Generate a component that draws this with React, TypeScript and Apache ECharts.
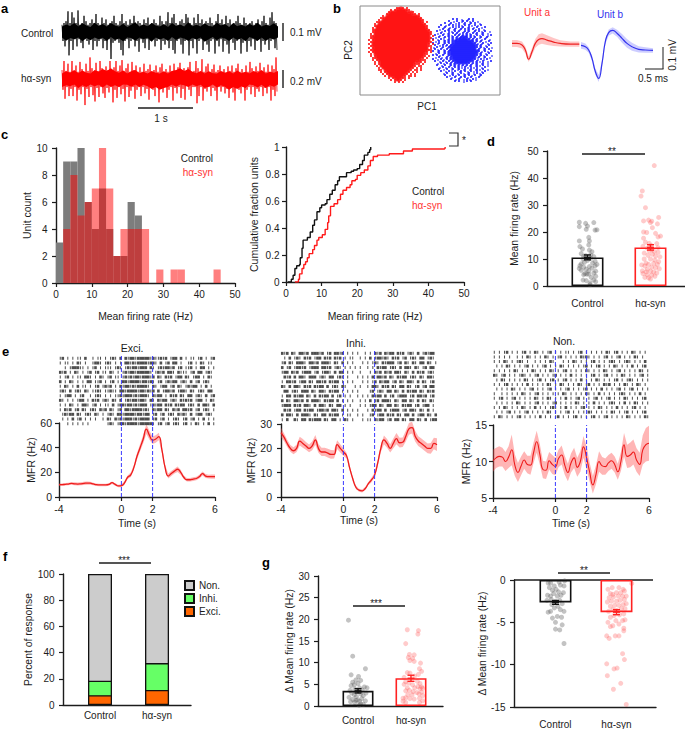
import React, { useEffect, useRef } from "react";
import * as echarts from "echarts";

const FONT = "Liberation Sans";
const INK = "#1c1c1c";
const CONTROL_LABEL = "Control";
const HA_LABEL = "hα-syn";

const TRACE_CONTROL_HI = [.04,.05,.06,.115,.05,.11,.08,.05,.12,.04,.05,.09,.06,.04,.05,.07,.05,.1,.05,.04,.08,.05,.07,.04,.05,.06,.09,.05,.04,.06,.1,.05,.06,.04,.07,.05,.09,.04,.06,.05,.04,.07,.05,.08,.04,.05,.07,.05,.04,.09,.06,.04,.06,.11,.05,.08,.1,.05,.04,.06,.07,.05,.1,.08,.05,.04,.08,.05,.1,.05,.07,.04,.06,.05,.08,.05,.04,.06,.1,.05,.07,.04,.09,.05,.07,.04,.05,.06,.09,.05,.04,.08,.05,.04,.05,.06,.04,.05,.07,.04,.06,.09,.05,.04,.08,.11,.06,.05];
const TRACE_CONTROL_LO = [-.05,-.08,-.04,-.13,-.05,-.1,-.04,-.08,-.04,-.06,-.09,-.04,-.05,-.07,-.04,-.1,-.05,-.08,-.05,-.04,-.09,-.05,-.1,-.04,-.15,-.06,-.05,-.04,-.06,-.1,-.13,-.05,-.04,-.09,-.05,-.04,-.08,-.05,-.11,-.04,-.06,-.09,-.04,-.1,-.05,-.04,-.08,-.05,-.04,-.1,-.05,-.07,-.04,-.09,-.05,-.1,-.12,-.05,-.04,-.07,-.12,-.05,-.04,-.13,-.05,-.09,-.04,-.12,-.05,-.04,-.1,-.05,-.07,-.11,-.05,-.04,-.12,-.05,-.08,-.04,-.11,-.05,-.07,-.12,-.04,-.06,-.1,-.05,-.04,-.12,-.06,-.04,-.11,-.05,-.08,-.04,-.1,-.05,-.04,-.11,-.05,-.07,-.04,-.1,-.05,-.04,-.09,-.1];
const TRACE_CONTROL_CORE = [.03,.042,.034,.05,.03,.048,.036,.028,.052,.034,.044,.03,.05,.036,.03,.046,.028,.04,.054,.03,.042,.032,.05,.036,.03,.044,.028,.05,.034,.042,.03,.054,.032,.04,.03,.048,.034,.03,.052,.036,.044,.028,.05,.032,.04,.03,.046,.034,.052,.03,.04,.034,.048,.03];
const TRACE_HA_HI = [.1,.2,.09,.17,.08,.2,.09,.15,.08,.19,.11,.08,.17,.09,.24,.12,.08,.18,.09,.2,.12,.08,.14,.1,.2,.09,.13,.2,.09,.15,.21,.09,.12,.17,.08,.19,.1,.15,.08,.13,.08,.17,.09,.11,.16,.08,.1,.15,.08,.13,.17,.08,.11,.08,.15,.09,.17,.08,.13,.18,.08,.12,.07,.13,.19,.08,.09,.2,.12,.08,.22,.08,.14,.17,.08,.11,.16,.08,.1,.15,.08,.11,.07,.14,.09,.15,.08,.12,.17,.08,.11,.07,.15,.08,.19,.12,.08,.14,.09,.18,.08,.13,.08,.16,.08,.15,.11,.24];
const TRACE_HA_LO = [-.12,-.22,-.09,-.19,-.11,-.19,-.09,-.24,-.12,-.17,-.09,-.29,-.11,-.2,-.09,-.18,-.25,-.1,-.2,-.09,-.16,-.21,-.1,-.15,-.09,-.26,-.12,-.21,-.09,-.17,-.11,-.25,-.09,-.2,-.13,-.09,-.22,-.12,-.09,-.19,-.09,-.16,-.11,-.23,-.09,-.12,-.19,-.09,-.26,-.11,-.15,-.09,-.21,-.12,-.09,-.24,-.1,-.16,-.09,-.21,-.11,-.23,-.08,-.12,-.19,-.09,-.09,-.27,-.19,-.09,-.24,-.11,-.14,-.09,-.19,-.1,-.13,-.24,-.09,-.14,-.09,-.16,-.11,-.21,-.09,-.15,-.24,-.09,-.12,-.16,-.09,-.24,-.12,-.09,-.17,-.09,-.2,-.11,-.14,-.09,-.19,-.1,-.16,-.09,-.24,-.12,-.19,-.14];
const TRACE_HA_CORE = [.06,.085,.07,.1,.065,.095,.07,.06,.1,.08,.11,.09,.12,.085,.07,.095,.06,.085,.1,.065,.08,.06,.09,.07,.06,.085,.06,.09,.1,.12,.09,.11,.08,.065,.09,.06,.085,.065,.06,.09,.07,.085,.06,.095,.065,.08,.06,.09,.07,.1,.06,.08,.07,.09];

const CLOUD_RED = [
"..............++#+.+.............",
"...........+.+#####++............",
"..........+#########+#+..........",
".........+############++.+.......",
".......+.################+.......",
"......++##################+......",
".....+.####################+.....",
"....++#####################+.+...",
"...+.#######################+....",
"...+#########################+...",
"..+.#########################+...",
"..+###########################+..",
"..+############################+.",
".+.############################+.",
".++############################.+",
".+#############################+.",
"+.+############################.+",
".+#############################+.",
"+.############################+.+",
".+############################++.",
"+.+###########################.+.",
".+############################++.",
"+.+##########################+.+.",
".+.#########################++...",
".+.+########################+.+..",
"..++#######################+.+...",
"..+.+#####################+++....",
"...+.+##################+#+.+....",
"...+.+#################+++.+.....",
"....+.#################+.++......",
".....+.###############+.+.+......",
".....++.#############+.++.+......",
"......+.+###########+.+.+........",
".......+.+#########+.+.+.........",
"........+.+#######+.++.+.........",
"..........+.+####++.+............",
"...........+.+##+.+..............",
".............+.+.+...............",
];
const CLOUD_BLUE = [
"..........+.+.*..*+.+.........",
"........+.*.+.*+.+*.+.*.......",
"......+.*+.*.+.*+.*+.+.*......",
"....+.*.+.+*.+*.+.+*.+*.+.....",
"...+.*+.*.+*.+*+.*+.*.+.*.+...",
"...*.+.*+.*+.*+.+*+.+*.+.*....",
"..+.*.+.+*.+*+.*+*+.*+.+*.+.*.",
"..*.+*.*+.+*+*.+*+*.+*+.*+.*..",
".+.*.+.*+*.+*+*+*+*+*.+*.+.*.+",
".*.+.*+.+*+*+*+##+*+*+.*+.*+..",
"+.*.+*.*+*+*+#####+*+*+.*.+.*.",
".*.+.*+*+*+#########+*+*+.*.+.",
"+.*+.*+.+*+##########+*.*+.*.+",
".+.*.+*+*+############+*+.*.+.",
"*.+.*+.*+#############+*+*.+.*",
".+*.+*.+*#############*+.*+.+.",
"+.*+.*+*+##############+*.+*.+",
".*.+.*+*+##############*+.*.+.",
"+.+*.+.*+#############+*+*.+.*",
".*.+*.*+*+############*+.*+.*.",
"+.*.+*.+*+###########+*.+*.+..",
".+.*.+*.+*+#########+*+*.+.*.+",
"..*.+*.+*+*+######+*+*+.*+.*..",
"..+.*.+.*+*+*+*+*+*+.*+*.+.*..",
"...*.+*.+*.+*+*.+*.+*.+.*.+...",
"...+.*.+.*+.*+.*+.*+.*+*.+.*..",
"....+.*.+*.+.*+.+*.+*.+.*.+...",
".....*.+.*+.*.+*.*+.*.+*.+....",
"......+.*.+*.+.*+.+*.+.*+.....",
".......+.*.+.*+.+*.+.*.+......",
".........+.*.+.*.+*.+*........",
"...........+.+.*.+.+..........",
];

const WAVE_A_T = [0,.136,.273,.364,.455,.545,.636,.727,.818,.955,1.136,1.318,1.591,1.836];
const WAVE_A_V = [.03,.03,.023,0,-.042,-.008,.03,.048,.052,.045,.036,.03,.027,.027];
const WAVE_A_HALF = [.016,.016,.016,.016,.012,.016,.02,.024,.024,.022,.018,.014,.012,.012];
const WAVE_B_T = [1.882,2,2.091,2.182,2.273,2.364,2.455,2.545,2.636,2.745,2.864,3,3.136,3.273,3.455,3.636,3.845];
const WAVE_B_V = [.021,.015,0,-.038,-.098,-.129,-.061,.038,.079,.089,.076,.053,.03,.015,.003,0,-.002];
const WAVE_B_HALF = [.015,.014,.012,.012,.014,.016,.012,.012,.014,.014,.016,.02,.02,.018,.014,.012,.01];

const BIN_CENTERS = [1,3,5,7,9,11,13,15,17,19,21,23,25,27,29,31,33,35,37,39,41,43,45];
const HIST_CONTROL = [3,9,9,10,6,4,7,4,2,2,6,5,0,0,0,0,0,0,0,0,0,0,0];
const HIST_HA = [0,4,8,5,6,7,10,7,2,4,4,4,4,0,1,0,1,1,0,0,0,0,1];

const CDF_CONTROL = [[.5,0],[1.5,.02],[2,.05],[2.5,.1],[3,.12],[3.8,.13],[4,.18],[4.5,.25],[4.8,.31],[6,.33],[6.8,.37],[7.5,.42],[8,.46],[8.7,.52],[9.5,.55],[10,.57],[11,.58],[11.5,.61],[12.3,.65],[13,.68],[13.8,.72],[14.5,.75],[15,.78],[16.5,.78],[17,.81],[18.3,.82],[19,.83],[20,.84],[20.7,.87],[21.5,.9],[22,.94],[23,.96],[23.5,.98],[23.8,1]];
const CDF_HA = [[2.5,0],[3.5,.02],[3.8,.06],[4.5,.1],[5,.13],[5.5,.15],[6,.18],[6.5,.21],[7.5,.24],[8,.27],[8.7,.31],[9.2,.33],[10.2,.35],[11,.39],[11.7,.44],[12,.49],[12.5,.56],[13.5,.58],[14.5,.61],[15.3,.65],[16,.68],[17,.7],[18,.72],[18.5,.75],[19.5,.76],[20,.79],[21,.81],[22,.83],[23,.86],[23.7,.9],[24.5,.93],[25.7,.94],[29,.95],[33,.97],[35.5,.985],[44.5,.99],[44.7,1]];

const D_MEANS = [10.6, 14.3];
const D_SEMS = [0.9, 1.0];
const D_CONTROL = [[.87,23.6],[.87,22],[.97,23.2],[1,22.2],[1.1,23.5],[.98,21],[1.12,20.7],[1.15,20.8],[1.02,18],[.87,16.7],[1.03,16.7],[.88,14.6],[.92,13.7],[1.02,15.2],[1.03,13.3],[1.07,12.7],[.9,12],[.97,11.2],[1.1,10.9],[1.05,10.2],[.93,10],[1,9.5],[1.12,9.2],[1.08,8.5],[.95,8.8],[.88,7.5],[.94,7],[1.03,7.2],[1.12,7.5],[.87,6.5],[.98,6.2],[1.07,6.6],[.9,5.8],[1.02,5.6],[1.13,5.5],[.96,4.6],[.99,4.4],[1.02,4.4],[.94,4.2],[1.1,4.8],[1.13,3.6],[1.06,3.2],[.93,2.2],[.98,2],[1.1,2.2],[1.13,1.6],[1.04,1.2],[1.04,.5],[.9,8.2],[1.15,8],[1.05,11.5],[.94,11]];
const D_HA = [[2.06,44.6],[1.87,35.2],[1.85,33.3],[1.92,29],[2.13,25.4],[1.89,24.1],[1.97,24.4],[2,23.5],[2.02,24],[2.11,23],[2.03,21.6],[2.08,19.5],[1.89,20],[1.94,19.8],[2.16,18.5],[2.12,18.2],[1.89,17.7],[1.92,16.2],[1.98,15.8],[2.1,15.7],[2.01,15],[1.88,14.7],[1.95,14],[2.12,14.2],[2.02,13.5],[1.98,13],[2.06,12.8],[1.9,12.2],[2.12,12.5],[1.96,11.4],[2.03,11.8],[2.08,11.1],[2.15,10.8],[1.9,10],[2,10],[2.07,9.6],[2.13,9],[1.93,8.5],[1.97,8],[2.05,8.4],[2.11,8],[1.86,7.8],[1.91,7.4],[2.02,7],[2.08,6.8],[2.14,6.4],[1.95,6.2],[1.87,5.6],[1.93,5.2],[2,5.5],[2.05,5.2],[2.1,4.8],[1.88,4.6],[1.95,4.2],[2.02,4],[2.07,3.6],[1.91,3.2],[1.97,3],[2,2.6]];

const RESP_EXCI_TOP = [7.5, 11.5];
const RESP_INHI_TOP = [18.5, 32];
const RESP_NON_TOP = [100, 100];

const G_UP_MEANS = [3.5, 6.4];
const G_UP_SEMS = [0.5, 0.7];
const G_UP_CONTROL = [[.82,19.8],[.9,11.5],[1.14,8.6],[.87,7.2],[1.01,6.8],[.96,6],[.9,5.5],[1.05,5.9],[1,5.2],[.87,4.7],[.93,4.9],[1.12,4.4],[1.17,4.2],[1.03,4.2],[.94,3.9],[.85,3.6],[1.08,3.7],[.99,3.4],[1.15,3],[.88,3],[1.05,2.8],[.93,2.6],[1.1,2.4],[.83,2],[.9,1.5],[.96,1.3],[.99,1.4],[1.03,1.1],[1.07,1.7],[1.14,1.2],[.86,1],[.94,.8],[1.05,.5],[1.1,.4],[.97,2.2],[1.02,.2]];
const G_UP_HA = [[1.93,17.6],[2.14,17.4],[2.13,16.6],[1.9,14.4],[1.97,11.9],[2.06,11.8],[1.95,11.2],[2.03,11],[1.98,10.5],[2.06,10.3],[2.18,9.9],[2.16,8.6],[2.2,8],[1.93,7.7],[1.98,7.6],[2.14,7.3],[2.07,6.9],[1.87,6.6],[1.9,5.6],[1.96,5.3],[2.12,5.7],[2.17,5.2],[1.87,5],[2.03,4.9],[2.13,4.5],[2.2,4.4],[1.93,4.2],[2.07,4.2],[2.17,4],[2.22,4.1],[1.9,3.5],[1.97,3.6],[2.04,3.3],[2.11,3.1],[2.2,3.2],[1.94,2.6],[2.02,2.6],[2.15,2.8],[2.22,2.4],[1.85,1.8],[1.9,1.9],[1.98,1.7],[2.06,1.6],[2.16,1.8],[2.22,1.2],[1.85,1.1],[1.9,.8],[2.16,.8]];
const G_DOWN_MEANS = [-2.65, -3.8];
const G_DOWN_SEMS = [0.22, 0.3];
const G_DOWN_CONTROL = [[1.14,-7.5],[1.07,-5.9],[1,-5.8],[1.11,-5.3],[1,-5],[.95,-4.5],[1.03,-4.3],[1.1,-4.4],[.88,-3.8],[.92,-3.7],[1.08,-3.5],[1.14,-3.7],[.98,-3.3],[1.04,-3.1],[.94,-2.9],[1.11,-2.8],[.86,-2.4],[.93,-2.3],[1,-2.5],[1.07,-2.4],[.87,-1.8],[.92,-1.9],[.97,-1.6],[1.03,-1.9],[1.09,-1.8],[1.13,-1.5],[.95,-1.2],[1.01,-1.1],[1.05,-1.4],[.9,-.9],[.98,-.7],[1.08,-.6],[1.14,-.7],[.88,-.35],[.92,-.35],[1.06,-.25],[1.15,-.1]];
const G_DOWN_HA = [[2.16,-14.7],[1.95,-12.9],[2.07,-12.2],[1.85,-11.3],[1.96,-10.5],[2.01,-10.4],[1.84,-9.9],[2.13,-9.4],[2.1,-8.7],[1.88,-6.9],[1.84,-6.6],[1.98,-6.6],[2.04,-6.6],[2.12,-6],[2.12,-5.7],[1.9,-5.5],[1.94,-5.4],[2.04,-5.2],[1.86,-5],[1.99,-4.8],[2.1,-4.8],[2.14,-4.7],[1.9,-4.4],[1.96,-4.2],[2.05,-4.1],[2.12,-4],[1.87,-3.7],[1.94,-3.5],[2,-3.6],[2.08,-3.4],[2.14,-3.4],[1.9,-3.1],[1.97,-3],[2.04,-3],[2.11,-2.9],[2.16,-2.8],[1.85,-2.6],[1.92,-2.5],[2,-2.5],[2.06,-2.4],[2.13,-2.3],[1.88,-2.1],[1.95,-2],[2.03,-1.9],[2.1,-1.9],[2.16,-1.9],[1.9,-1.6],[1.94,-1.7],[2,-1.5],[2.07,-1.5],[2.13,-1.3],[1.86,-1.1],[1.93,-.9],[2.04,-.9],[2.11,-1.1],[2.25,-.4]];

const TIME_AXIS = [-4,-3.8,-3.6,-3.4,-3.2,-3,-2.8,-2.6,-2.4,-2.2,-2,-1.8,-1.6,-1.4,-1.2,-1,-.8,-.6,-.4,-.2,0,.2,.4,.6,.8,1,1.2,1.4,1.6,1.8,2,2.2,2.4,2.6,2.8,3,3.2,3.4,3.6,3.8,4,4.2,4.4,4.6,4.8,5,5.2,5.4,5.6,5.8,6];
const MFR_EXCI = [10,10,10.3,10.5,11,10.7,10.5,10.7,11,11.3,11.2,10.6,10,9.8,9.8,9.8,10.2,11.6,10.2,9,9.2,11.5,16,18,24,33,40,47,55,50,46,47,49,38,24,17,19,21,22.5,20,16,14,14,14.5,15,16.5,19,17,16.5,16.5,16.5];
const MFR_EXCI_HALF = [1,1,1,1,1,1.2,1.2,1.2,1.3,1.3,1.2,1,1,1,1,1,1,1,1,1,1.2,1.5,1.5,1.8,2,2.5,3,3.5,4,3.5,3,3,3,2.5,2.2,2,2,2,2.2,2,1.5,1.5,1.5,1.5,1.5,1.5,1.6,1.6,1.6,1.7,1.7];
const MFR_INHI = [26.5,24.5,22,20,19,20,23,22,21,20,21,23.5,20,18.5,18.5,18,17.5,17.5,21.5,20,18.5,17,12,7.5,4,2.8,2.5,3.5,5.5,7,9,14,20,23.5,22,20,22,24,22.3,22.5,25,28,28.5,25,23,22,21,20,20,22,21.5];
const MFR_INHI_HALF = [2,1.6,1.5,1.4,1.4,1.5,1.8,1.8,1.6,1.6,1.8,2,1.8,1.7,1.7,1.8,1.8,1.7,1.8,1.7,1.5,1.2,1,.8,.7,.6,.6,.6,.7,.9,1,1.3,1.5,1.8,1.8,1.7,2,2.3,2,2,2.2,2.4,2.4,2.2,2,2,2,2,2.2,2.4,2.6];
const MFR_NON = [10.1,10.5,10.7,10.6,10,10.6,11.6,9.5,8.5,9.4,10.2,9.6,9.5,11.2,12.7,11,8.9,8.8,10.1,9.6,9.3,10.4,10.9,9.5,8.5,9.8,10.5,9.2,10,12,10.5,8.5,6.8,8.2,10,9.4,9.3,9.8,10.1,9.6,8.6,10,12.3,10.7,10.9,11.3,10.2,9.6,11.6,12.3,12.5];
const MFR_NON_HALF = [1.5,1.4,1.4,1.3,1.3,1.5,2.1,1.5,1.3,1.3,1.2,1.2,1.3,1.4,1.5,1.4,1.2,1.2,1.2,1.3,1.2,1.2,1.3,1.3,1.2,1.3,1.4,1.3,1.4,1.5,1.6,1.3,1.2,1.3,1.4,1.2,1.1,1.1,1.1,1.1,1.1,1.3,1.6,1.6,1.7,1.7,1.6,1.6,2,2.3,2.4];

const RASTER_EXCI = [
"|#.|.|.||.#..|.||.|.|#|.#.#|##|#####|#||#|#.|##.#.|.||.|#.|.|#",
"|.||.|.#|.|..|##|.|#|.|.|.##|#|####|##|.#.|#.##.|..|#.|.#|.||.",
"..|.|###||.|.|#.|.|||.|#|.|#|##|###.#|.|#|##|#.|#.||#.|.##.|.|",
"#|#.|.#|.|.|#.|#.||.#|.|.|#|##|#####|.|#|#.##|.#|||.|#.##.|#|.",
"|.|#.|.||.##|.|.#|.|#.||.|#|#|##|###|#.#|.#|#.|##.#|.|##.|.#|.",
"#.|.#|.|.|.##.||#.|.|#.|.##|####|##|#|.|#.|#|##.|#|.#.|#.|#|..",
"|.#|.|.#.||.|.|#.|#|#.|.#|##|#|####|.#|.|##.|#.#|.|#|##.|.#.|.",
"|#|.#.|#|.#|.||#|.||#||.##|####|##|#|#.#.|##|#.|##|.#|.|#|.##.",
"|.|##.|.|#..|.|#|.|.|.||#|###|#|###|.#|##.|.#|#.#|.##.|#|.#.|#",
"#|.|.|.|##.|.#|#.|#|.#|.#.|#|##|##|.#|.#|##.|#|.#|#|#.|##.|.#|",
"|.|.#|.|.##|.|#.|.||.#.|##|##|#|###.|#|##.#|#.#|##.|#|.#.##|.#",
"|.#|#.|#.#|.|#|.#|#.#|.|#.##|####|#|.#|##.#|.#|#.##|#.|#.|#|.|",
".|#|##.#|.|#|.#|.|.|#|.##|####|##|##.|#.|#.|#|.#|#|.#.|##.|#|.",
".|.|.#.|#.|.|.|..|.#|.#|#|###|#|####.|#.|#.|.|#|.|#.|#.|.#.|.|",
"...|.|.|.|.|.......|#|.|##|####|#####|.|#.|#.|#|.|#.|.#|.|.#.|",
];
const RASTER_INHI = [
"#|#.#|.##|#.###|#.|#.##|#.|.|.|..|.|.#|#.#|##.#|#.|#|.#.|#|##.",
".|.#.|#|.#|#.|##.#|#.#|#.|.||..|.|.#.|##|#|.#|#.|#.|#|.##.|#|.",
"|#.#|.###|.##|#.###|.#|.#.|.|...|.|.|#|.#|###.|#.#|.#|.##.#|.|",
"#.|#.|##|#.|###.##|#.|#|.|.|.|.|..|.|.#|##.|#|.#.##|.#|.|#.##.",
"|##.#|#.|###.|#.|##|.#.##.|.|..|...|.#|#.#|#.##|.#|.#.#|#.|#|.",
".#|#.#.##|.###.|#|.##.|#|.|...|.|.|.#.##|#.#|.#|##.|#|.#|.##|.",
"|.##|#.|##.#|.##|#.#|##.|.|.|...|.|.|#.#|##.|#.#|.##|.#.#|.|#.",
"#|.#.##|.#|#.#|##.#.|#|.#|...|.|..|.##|.#|#.#|.##.#|.|#.|#.##.",
".##.|#|.###.#|.##|.#|##.|.|.|.|....|#.|#|.##.#|.#.#|##.#|.#|#.",
"|.##.#|##.#|.#.#|##.#.|#.|.|..|.|.|.#|##.#.|#.|###.|#.##|#.|#.",
"#.#|.##|#.#.###|.#|##.#.|.|.|..|.|.#.|#.###|.#|.##.#|.#.#|.#|.",
"|###.#|#.##|.#.##|.#|.##.|.|...|.|.|##.#|.##.#|.#|##.|#.|##.|.",
".#|#.|##.#|##.|##|#.##|.#.|.|.|...|.#|##.#.|###.|#.##|.#|.#.|.",
"#.##|.#.###|.#|.##.#|##.|.||..|.|..|#.|##.#|#.#|.##.#.|##.#|.#",
"|.#..#|.##.#|###.#|.##.|.#|.|...|.||.#|##.|#.##.#|.##.#|.#.|##",
];
const RASTER_NON = [
"|.|.|#.|.|.|#.|.#|.|.|#.|.|.||.|.|#.|.|.|.|.#|.|#.|.|.#|.|.|.",
"|.|.|.|..|.|.#|.|.|.#|.|.|#.|.|.|.#|#|.|.|.|#.|.|#.|.|.#|.|..",
"|.|.#|.|.|#|.|..|.|.|.#|...|.|.#|.|.|.|#.|.|.|#|.|.|#|.|.|.#.",
".|.|.#|.|.|.|#.|.|.|#.|.|.#|.|.|.|.|#.|.|#.|.|.#|.|.|.#.|.|#.",
"|.|.|.|.#|.|.|.#|.|.|.#|.|.|#.|.|.|.#|.|.|.#|.|.|#.|.|.|.#|.|",
"#|.|#.|.|.|#|.|.|#.|.|.|#.|.|.#.|.|.|.|#.|.|#.|.|.#|.|.|.|#.|",
".|.#|.|.|.|.#|.|.|#.|.|#.|.|#.|.|.#.|.|.#|.|.|.|#.|.|#|.|.|.|",
"|.|.|#.|.|.|.#.|.|.|.#|.|.#|.|.|.#|.|#.|.|.#|#.|.|.#|.|.#|.|.",
".|.|.|.#|.|.|.|#.|.|.|#.|.|.|#.|.|.|#.|.|.#.|.|.|#.|.|#.|.|.|",
"|..|.|.|.|.#|.|.|#.|.|.|.|.#|.|.|.|.#|.|.#.|.|.|.|#|.|.|.#.|.",
"|.|#.|.|#.|.|.|.#|.|.#|.|.|.#.|.|#.|.|.|#.|.|#.|.|.#|.|.|.|#.",
".|.|.|.|.#|.|.|.|#.|.|.|#.|.|.|.#|.|.|.#.|.|.|#|.|.#.|.#|.|.|",
"|.|.#|.|.|.#|.|.#.|.|.|#|.|.#.|.|.|#.|.|.#|.|.|.#.|.|.|#.|.|.",
".|.|.|#.|.|.|#.|.|.|.#|.|.|.|#.|.|.|.#|.|.|.|.#|.|.|#.|.|.|#.",
"|.#|.|.|.|#.|.|.|.#.|.|.|#.|.|.|#.|.|.|#.|.|#.|.|.|.#|.|.|.#|",
];

const resp = (arr: number[], half: number[]) => TIME_AXIS.map((t, i) => [t, arr[i] - half[i], arr[i] + half[i]]);
const mean = (arr: number[]) => TIME_AXIS.map((t, i) => [t, arr[i]]);

function buildOption() {
  const grid: any[] = [];
  const xAxis: any[] = [];
  const yAxis: any[] = [];
  const series: any[] = [];
  const graphic: any[] = [];

  const line = (w = 1.4) => ({ show: true, onZero: false, lineStyle: { color: INK, width: w } });
  const tick = (show = true) => ({ show, length: 4, lineStyle: { color: INK, width: 1.2 } });
  const label = (fs = 10, margin = 6.5) => ({ color: INK, fontFamily: FONT, fontSize: fs, margin });
  const nameStyle = (fs = 10.4) => ({ color: INK, fontFamily: FONT, fontSize: fs });

  const panel = (rect: number[], x: any, y: any) => {
    grid.push({ left: rect[0], top: rect[1], width: rect[2], height: rect[3], containLabel: false });
    xAxis.push({ type: "value", gridIndex: grid.length - 1, splitLine: { show: false }, ...x });
    yAxis.push({ type: "value", gridIndex: grid.length - 1, splitLine: { show: false }, ...y });
    return grid.length - 1;
  };
  const hidden = { show: false };
  const on = (g: number) => ({ xAxisIndex: g, yAxisIndex: g });

  const text = (x: number, y: number, t: string, o: any = {}) =>
    graphic.push({
      type: "text", x, y, rotation: o.rotation || 0, silent: true,
      style: {
        text: t, fontFamily: FONT, fontSize: o.size || 10, fontWeight: o.weight || "normal",
        fill: o.color || INK, textAlign: o.align || "left", textVerticalAlign: "middle",
      },
    });
  const stroke = (x1: number, y1: number, x2: number, y2: number, w = 1.3, color = INK) =>
    graphic.push({ type: "line", silent: true, shape: { x1, y1, x2, y2 }, style: { stroke: color, lineWidth: w } });

  const band = (g: number, rows: number[][], fill: string) =>
    series.push({
      type: "custom", coordinateSystem: "cartesian2d", ...on(g), silent: true, clip: false, z: 1, data: rows,
      renderItem: (p: any, api: any) => {
        if (p.dataIndex !== 0) return null;
        const up = rows.map((r) => api.coord([r[0], r[2]]));
        const down = rows.map((r) => api.coord([r[0], r[1]])).reverse();
        return { type: "polygon", shape: { points: up.concat(down) }, style: { fill } };
      },
    });
  const curve = (g: number, data: any[], color: string, w = 1.3, extra: any = {}) =>
    series.push({ type: "line", ...on(g), data, showSymbol: false, silent: true, lineStyle: { color, width: w }, itemStyle: { color }, z: 3, ...extra });

  const errorBars = (g: number, means: number[], sems: number[], colors: string[], cap: number) =>
    series.push({
      type: "custom", coordinateSystem: "cartesian2d", ...on(g), silent: true, z: 6,
      data: means.map((m, i) => [i + 1, m, sems[i], i]),
      renderItem: (_: any, api: any) => {
        const x = api.value(0), m = api.value(1), s = api.value(2);
        const c = colors[api.value(3)];
        const a = api.coord([x, m + s]), b = api.coord([x, m - s]);
        const st = { stroke: c, lineWidth: 1.4 };
        const l = (x1: number, y1: number, x2: number, y2: number) => ({ type: "line", shape: { x1, y1, x2, y2 }, style: st });
        return { type: "group", children: [
          l(a[0], a[1], b[0], b[1]), l(a[0] - cap, a[1], a[0] + cap, a[1]), l(b[0] - cap, b[1], b[0] + cap, b[1]),
          l(a[0] - cap, (a[1] + b[1]) / 2, a[0] + cap, (a[1] + b[1]) / 2),
        ] };
      },
    });
  const dots = (g: number, data: number[][], color: string) =>
    series.push({ type: "scatter", ...on(g), data, symbolSize: 5, silent: true, itemStyle: { color }, z: 4 });
  const outlineBars = (g: number, means: number[], width: number) => {
    series.push({
      type: "bar", ...on(g), barWidth: width, barGap: "-100%", silent: true, z: 5,
      data: means.map((m, i) => ({
        value: [i + 1, m],
        itemStyle: { color: "rgba(0,0,0,0)", borderColor: i === 0 ? "#111111" : "#ff2222", borderWidth: 1.6 },
      })),
    });
  };
  const nameMap = [CONTROL_LABEL, HA_LABEL];
  const groupAxis = (min: number, max: number, margin = 12) => ({
    min, max, axisLine: line(), axisTick: { show: false },
    axisLabel: { ...label(10), margin, customValues: [1, 2], formatter: (v: number) => nameMap[v - 1] },
  });

  // panel a
  const zig = (hi: number[], lo: number[]) => hi.flatMap((h, i) => [[i, h], [i + 0.5, lo[i]]]);
  const coreRows = (core: number[], n: number) =>
    core.map((c, i) => [(i * n) / (core.length - 1), -core[core.length - 1 - i], c]);
  const aC = panel([62, 0, 216, 64], { ...hidden, min: 0, max: TRACE_CONTROL_HI.length }, { ...hidden, min: -0.178, max: 0.178 });
  band(aC, coreRows(TRACE_CONTROL_CORE, TRACE_CONTROL_HI.length), "#000000");
  curve(aC, zig(TRACE_CONTROL_HI, TRACE_CONTROL_LO), "#000000", 0.8);
  const aH = panel([62, 47, 216, 64], { ...hidden, min: 0, max: TRACE_HA_HI.length }, { ...hidden, min: -0.356, max: 0.356 });
  band(aH, coreRows(TRACE_HA_CORE, TRACE_HA_HI.length), "#ff0000");
  curve(aH, zig(TRACE_HA_HI, TRACE_HA_LO), "#ff0000", 0.8);

  // panel b
  const cloud = (rows: string[], col0: number, row0: number) => {
    const out: number[][] = [];
    rows.forEach((r, j) => r.split("").forEach((ch, i) => {
      if (ch === "#") out.push([col0 + i, row0 + j, 2.8]);
      else if (ch === "+") out.push([col0 + i, row0 + j, 1.9]);
      else if (ch === "*") out.push([col0 + i + 0.5, row0 + j + 0.5, 1.7]);
    }));
    return out;
  };
  const bScatter = panel([360, 6, 140, 89], { ...hidden, min: 0, max: 70 }, { ...hidden, min: 0, max: 44.5, inverse: true });
  const cloudSeries = (data: number[][], color: string) =>
    series.push({ type: "scatter", ...on(bScatter), data, symbol: "rect", symbolSize: (v: number[]) => v[2], silent: true, itemStyle: { color }, z: 2 });
  cloudSeries(cloud(CLOUD_BLUE, 36.5, 6.5), "#1010ff");
  cloudSeries(cloud(CLOUD_RED, 4.5, 1), "#ff0000");
  graphic.push({ type: "rect", silent: true, shape: { x: 360, y: 6, width: 140, height: 89 }, style: { fill: "none", stroke: "#8a8a8a", lineWidth: 1 } });

  const wave = panel([512, 10, 143, 80], { ...hidden, min: 0, max: 3.9 }, { ...hidden, min: -0.1818, max: 0.1818 });
  band(wave, WAVE_A_T.map((t, i) => [t, WAVE_A_V[i] - WAVE_A_HALF[i], WAVE_A_V[i] + WAVE_A_HALF[i]]), "rgba(255,90,90,0.35)");
  curve(wave, WAVE_A_T.map((t, i) => [t, WAVE_A_V[i]]), "#ee2222", 1.2, { smooth: true });
  band(wave, WAVE_B_T.map((t, i) => [t, WAVE_B_V[i] - WAVE_B_HALF[i], WAVE_B_V[i] + WAVE_B_HALF[i]]), "rgba(90,90,255,0.3)");
  curve(wave, WAVE_B_T.map((t, i) => [t, WAVE_B_V[i]]), "#3333ee", 1.2, { smooth: true });

  // panel c
  const hist = panel([56, 148, 179, 135],
    { min: 0, max: 50, interval: 10, axisLine: line(), axisTick: tick(), axisLabel: label(), name: "Mean firing rate (Hz)", nameLocation: "middle", nameGap: 28, nameTextStyle: nameStyle() },
    { min: 0, max: 10, interval: 2, axisLine: line(), axisTick: tick(), axisLabel: label(10, 8.5), name: "Unit count", nameLocation: "middle", nameGap: 20, nameTextStyle: nameStyle() });
  const histSeries = (vals: number[], color: string) =>
    series.push({ type: "bar", ...on(hist), barWidth: 7.16, barGap: "-100%", silent: true, itemStyle: { color }, z: 2, data: vals.map((v, i) => [BIN_CENTERS[i], v]).filter((d) => d[1] > 0) });
  histSeries(HIST_CONTROL, "#7d7d7d");
  histSeries(HIST_HA, "rgba(255,0,0,0.5)");

  const cdf = panel([286, 147, 178, 135],
    { min: 0, max: 50, interval: 10, axisLine: line(), axisTick: tick(), axisLabel: label(), name: "Mean firing rate (Hz)", nameLocation: "middle", nameGap: 29, nameTextStyle: nameStyle() },
    { min: 0, max: 1, interval: 0.2, axisLine: line(), axisTick: tick(), axisLabel: label(10, 6.5), name: "Cumulative fraction units", nameLocation: "middle", nameGap: 27, nameTextStyle: nameStyle(10.5) });
  curve(cdf, CDF_CONTROL, "#111111", 1.4, { step: "end" });
  curve(cdf, CDF_HA, "#ff1a1a", 1.4, { step: "end" });

  // panel d
  const d = panel([547, 151, 138, 135], groupAxis(0.357, 2.548),
    { min: 0, max: 50, interval: 10, axisLine: line(), axisTick: tick(), axisLabel: label(10, 8.5), name: "Mean firing rate (Hz)", nameLocation: "middle", nameGap: 28, nameTextStyle: nameStyle() });
  dots(d, D_CONTROL, "rgba(90,90,90,0.45)");
  dots(d, D_HA, "rgba(255,70,70,0.35)");
  outlineBars(d, D_MEANS, 32);
  errorBars(d, D_MEANS, D_SEMS, ["#111111", "#ff2222"], 3.5);

  // panel e
  const eventLines = (g: number, lo: number, hi: number) => {
    [0, 2].forEach((t) => series.push({
      type: "line", ...on(g), data: [[t, lo], [t, hi]], showSymbol: false, silent: true, z: 7,
      lineStyle: { color: "#3a3aff", type: "dashed", width: 1 },
    }));
  };
  const raster = (rows: string[], top: number, h: number, left: number) => {
    const g = panel([left, top, 156, h], { ...hidden, min: -4, max: 6 }, { ...hidden, min: 0, max: rows.length, inverse: true });
    const data: number[][] = [];
    rows.forEach((r, j) => r.split("").forEach((ch, i) => {
      if (ch === "|" || ch === "#") data.push([-4 + (10 * (i + 0.5)) / r.length, j + 0.5, ch === "#" ? 2.6 : 1]);
    }));
    series.push({
      type: "scatter", ...on(g), data, symbol: "rect", silent: true, symbolSize: (v: number[]) => [v[2], 3],
      itemStyle: { color: "#222222" }, z: 2,
    });
    eventLines(g, 0, rows.length);
  };
  const timeX = (gap: number) => ({
    min: -4, max: 6, interval: 2, axisLine: line(),
    axisTick: { ...tick(), customValues: [-4, 0, 2, 6] },
    axisLabel: { ...label(10.5, 6), customValues: [-4, 0, 2, 6] },
    name: "Time (s)", nameLocation: "middle", nameGap: gap, nameTextStyle: nameStyle(10.5),
  });
  const mfrY = (min: number, max: number, interval: number, gap: number, margin: number) => ({
    min, max, interval, axisLine: line(), axisTick: tick(), axisLabel: label(10.5, margin),
    name: "MFR (Hz)", nameLocation: "middle", nameGap: gap, nameTextStyle: nameStyle(10.5),
  });
  raster(RASTER_EXCI, 356, 70, 59);
  const e1 = panel([59, 423, 156, 74], timeX(20), mfrY(0, 60, 20, 21, 7));
  band(e1, resp(MFR_EXCI, MFR_EXCI_HALF), "rgba(255,70,70,0.4)");
  curve(e1, mean(MFR_EXCI), "#ee1c1c", 1.3, { smooth: true });
  eventLines(e1, 0, 60);
  raster(RASTER_INHI, 351, 71, 281);
  const e2 = panel([281, 424, 156, 73], timeX(17), mfrY(0, 30, 10, 24, 9));
  band(e2, resp(MFR_INHI, MFR_INHI_HALF), "rgba(255,70,70,0.4)");
  curve(e2, mean(MFR_INHI), "#ee1c1c", 1.3, { smooth: true });
  eventLines(e2, 0, 30);
  raster(RASTER_NON, 350, 69, 493);
  const e3 = panel([493, 425, 156, 73], timeX(19), mfrY(5, 15, 5, 20, 6));
  band(e3, resp(MFR_NON, MFR_NON_HALF), "rgba(255,70,70,0.4)");
  curve(e3, mean(MFR_NON), "#ee1c1c", 1.1, { smooth: true });
  eventLines(e3, 5, 15);

  // panel f
  const f = panel([63, 574, 128, 131], groupAxis(0.351, 2.596, 5),
    { min: 0, max: 100, interval: 20, axisLine: line(), axisTick: tick(), axisLabel: label(10, 8.5), name: "Percent of response", nameLocation: "middle", nameGap: 26, nameTextStyle: nameStyle() });
  const respSeries = (name: string, vals: number[], color: string) =>
    series.push({
      type: "bar", name, ...on(f), barWidth: 24, barGap: "-100%", silent: true,
      data: vals.map((v, i) => [i + 1, v]),
      itemStyle: { color, borderColor: "#111111", borderWidth: 1.3 }, z: 3,
    });
  respSeries("Non.", RESP_NON_TOP, "#cccccc");
  respSeries("Inhi.", RESP_INHI_TOP, "#66ff66");
  respSeries("Exci.", RESP_EXCI_TOP, "#ff6600");

  // panel g
  const gUp = panel([318, 576, 125, 130], groupAxis(0.245, 2.604, 9),
    { min: 0, max: 30, interval: 5, axisLine: line(), axisTick: tick(), axisLabel: label(10, 8.5), name: "Δ Mean firing rate (Hz)", nameLocation: "middle", nameGap: 23, nameTextStyle: nameStyle() });
  dots(gUp, G_UP_CONTROL, "rgba(90,90,90,0.45)");
  dots(gUp, G_UP_HA, "rgba(255,70,70,0.35)");
  outlineBars(gUp, G_UP_MEANS, 31);
  errorBars(gUp, G_UP_MEANS, G_UP_SEMS, ["#111111", "#ff2222"], 3.5);

  const gDown = panel([514, 580, 142, 130], groupAxis(0.32, 2.648),
    { min: -15, max: 0, interval: 5, axisLine: line(), axisTick: tick(), axisLabel: label(10, 8.5), name: "Δ Mean firing rate (Hz)", nameLocation: "middle", nameGap: 25, nameTextStyle: nameStyle() });
  dots(gDown, G_DOWN_CONTROL, "rgba(90,90,90,0.45)");
  dots(gDown, G_DOWN_HA, "rgba(255,70,70,0.35)");
  outlineBars(gDown, G_DOWN_MEANS, 32);
  errorBars(gDown, G_DOWN_MEANS, G_DOWN_SEMS, ["#111111", "#ff2222"], 3.5);
  stroke(514, 580, 653, 580);

  // annotations
  [["a", 1, 8], ["b", 333, 8], ["c", 1, 134], ["d", 487, 141], ["e", 2, 351], ["f", 3, 556], ["g", 262, 562]].forEach(([t, x, y]) =>
    text(x as number, y as number, t as string, { size: 13, weight: "bold", color: "#000000" }));
  text(21, 33, CONTROL_LABEL);
  text(21, 78, HA_LABEL);
  stroke(283, 23, 283, 41, 1.4);
  stroke(283, 70, 283, 88, 1.4);
  text(290, 32, "0.1 mV");
  text(290, 81, "0.2 mV");
  stroke(138, 108, 193, 108, 1.4);
  text(161, 118, "1 s", { align: "center" });
  text(348, 50, "PC2", { rotation: Math.PI / 2, align: "center" });
  text(427, 106, "PC1", { align: "center" });
  text(537, 12, "Unit a", { align: "center", color: "#ff3333" });
  text(610, 14, "Unit b", { align: "center", color: "#3333ee" });
  stroke(663, 47, 663, 69, 1);
  stroke(645, 69, 663.5, 69, 1);
  text(653, 78, "0.5 ms", { align: "center" });
  text(672, 55, "0.1 mV", { rotation: Math.PI / 2, align: "center" });
  text(213, 158, CONTROL_LABEL, { align: "right" });
  text(213, 172, HA_LABEL, { align: "right", color: "#ff3333" });
  text(412, 191, CONTROL_LABEL);
  text(412, 205, HA_LABEL, { color: "#ff3333" });
  graphic.push({ type: "polyline", silent: true, shape: { points: [[449, 133], [458, 133], [458, 146], [449, 146]] }, style: { fill: "none", stroke: "#333333", lineWidth: 1.2 } });
  text(464, 140, "*", { align: "center" });
  stroke(582, 154, 645, 154);
  text(612, 151, "**", { align: "center", size: 10 });
  text(132, 348, "Exci.", { align: "center", size: 10.5 });
  text(356, 343, "Inhi.", { align: "center", size: 10.5 });
  text(564, 341, "Non.", { align: "center", size: 10.5 });
  stroke(99, 563, 151, 563);
  text(124, 560, "***", { align: "center" });
  stroke(353, 606, 405, 606);
  text(376, 603, "***", { align: "center" });
  stroke(558, 573, 610, 573);
  text(584, 570, "**", { align: "center" });

  return {
    animation: false,
    backgroundColor: "#ffffff",
    grid, xAxis, yAxis, series, graphic,
    legend: {
      show: true, left: 184, top: 580, padding: 0, orient: "vertical", icon: "rect", itemWidth: 9, itemHeight: 9, itemGap: 2,
      data: ["Non.", "Inhi.", "Exci."], selectedMode: false,
      textStyle: { color: INK, fontFamily: FONT, fontSize: 10 },
    },
  };
}

export default function App() {
  const ref = useRef<HTMLDivElement>(null);
  useEffect(() => {
    const chart = echarts.init(ref.current!, undefined, { renderer: "svg" });
    chart.setOption(buildOption() as any);
    return () => chart.dispose();
  }, []);
  return <div ref={ref} style={{ position: "absolute", left: 0, top: 0, width: 685, height: 729 }} />;
}
